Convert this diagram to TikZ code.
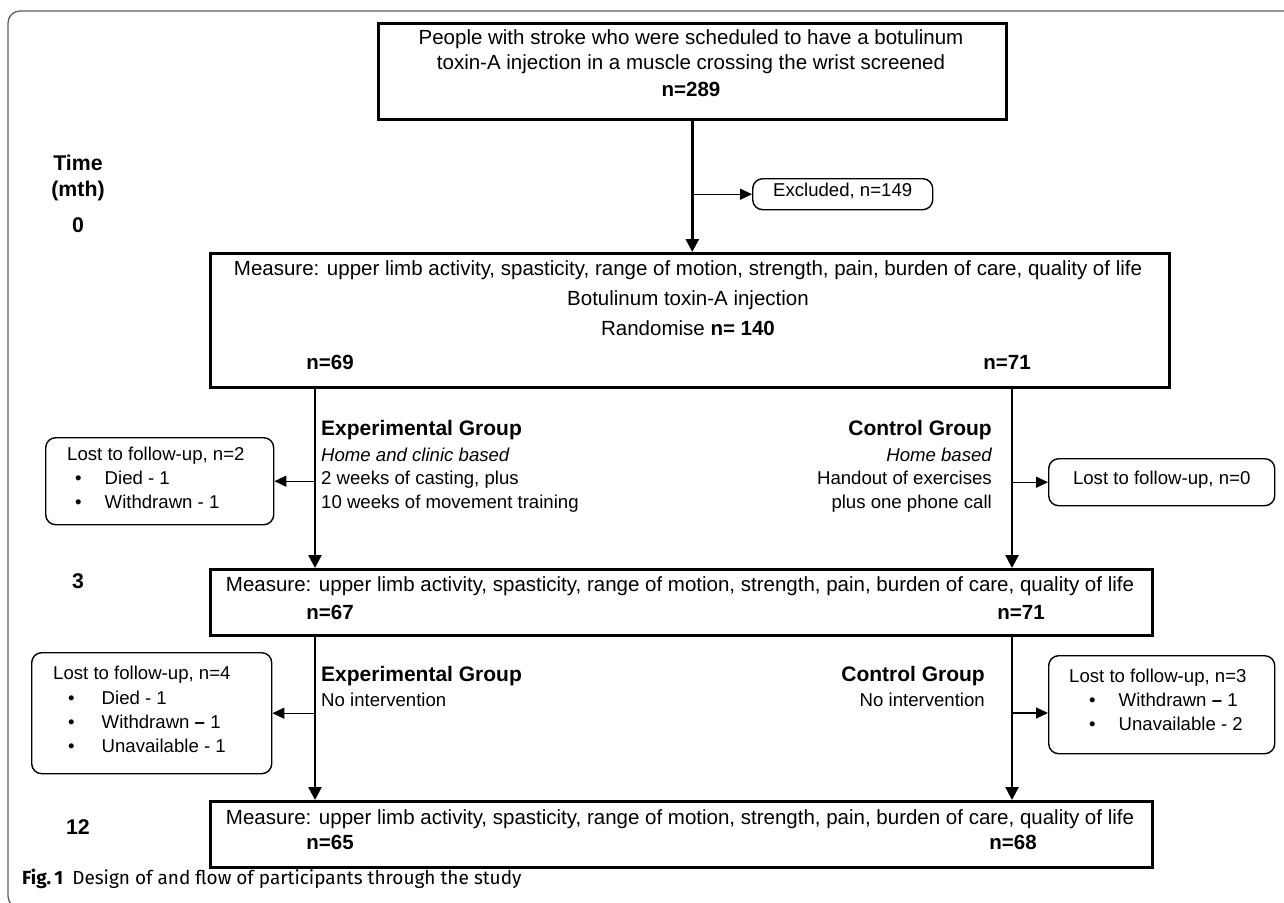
\documentclass[tikz,border=0pt]{standalone}
\usepackage{fontspec}
\setmainfont{Liberation Sans}
\newfontfamily\capfont{Fira Sans}
\usetikzlibrary{arrows.meta}
\begin{document}
\begin{tikzpicture}[x=1pt,y=-1pt,
  mainbox/.style={draw, line width=2.6pt, inner sep=0pt, anchor=north west},
  lostbox/.style={draw, line width=1.4pt, rounded corners=10pt, inner sep=0pt, anchor=north west},
  txt/.style={inner sep=0pt, font=\fontsize{20.5}{24}\selectfont},
  btxt/.style={inner sep=0pt, font=\fontsize{20.5}{24}\selectfont\bfseries},
  stxt/.style={inner sep=0pt, font=\fontsize{18.6}{22}\selectfont},
  itxt/.style={inner sep=0pt, font=\fontsize{18.6}{22}\selectfont\itshape},
  head/.style={inner sep=0pt, font=\fontsize{21}{24}\selectfont\bfseries},
  lbl/.style={inner sep=0pt, font=\fontsize{21.3}{24}\selectfont\bfseries},
  mainarrow/.style={line width=2.6pt, -{Triangle[length=13pt,width=13pt]}},
  sidearrow/.style={line width=1.2pt, -{Triangle[length=12pt,width=11pt]}}
]
\useasboundingbox (0,0) rectangle (1284,902);
\begin{scope}
\clip (0,0) rectangle (1284,902);
\draw[gray!75!black, line width=1.3pt, rounded corners=12pt] (8,11) rectangle (1310,908);
\end{scope}

% coordinates for vertical flows
\coordinate (L) at (315,0);
\coordinate (R) at (1012,0);

% top box
\node[mainbox, minimum width=628pt, minimum height=96pt] (top) at (377,22) {};
\node[txt, anchor=mid] (t1) at (691,42) {People with stroke who were scheduled to have a botulinum};
\node[txt, anchor=mid] (t2) at (691,67) {toxin-A injection in a muscle crossing the wrist screened};
\node[btxt, anchor=mid] (t3) at (691,94) {n=289};

% excluded
\node[lostbox, minimum width=180pt, minimum height=31pt] (ex) at (752,178) {};
\node[stxt, anchor=mid] (ext) at (ex.center) {Excluded, n=149};

% time labels
\node[lbl, anchor=mid] (time) at (78,168) {Time};
\node[lbl, anchor=mid] (mth) at (78,194) {(mth)};
\node[lbl, anchor=mid] (m0) at (78,230) {0};
\node[lbl, anchor=mid] (m3) at (78,586) {3};
\node[lbl, anchor=mid] (m12) at (78,832) {12};

% box 0
\node[mainbox, minimum width=959pt, minimum height=134pt] (b0) at (209,252) {};
\node[txt, anchor=mid] (b0a) at (688,273) {Measure: upper limb activity, spasticity, range of motion, strength, pain, burden of care, quality of life};
\node[txt, anchor=mid] (b0b) at (688,303) {Botulinum toxin-A injection};
\node[txt, anchor=mid] (b0c) at (688,333) {Randomise \textbf{n= 140}};
\node[btxt, anchor=mid] (b0l) at (330,367) {n=69};
\node[btxt, anchor=mid] (b0r) at (1007,367) {n=71};

% box 3
\node[mainbox, minimum width=942pt, minimum height=66pt] (b3) at (209,568) {};
\node[txt, anchor=mid] (b3a) at (680,589) {Measure: upper limb activity, spasticity, range of motion, strength, pain, burden of care, quality of life};
\node[btxt, anchor=mid] (b3l) at (330,617) {n=67};
\node[btxt, anchor=mid] (b3r) at (1021,617) {n=71};

% box 12
\node[mainbox, minimum width=942pt, minimum height=66pt] (b12) at (209,800) {};
\node[txt, anchor=mid] (b12a) at (680,822) {Measure: upper limb activity, spasticity, range of motion, strength, pain, burden of care, quality of life};
\node[btxt, anchor=mid] (b12l) at (330,847) {n=65};
\node[btxt, anchor=mid] (b12r) at (1013,847) {n=68};

% group texts 0-3
\node[head, anchor=mid west] (e1) at (321,433) {Experimental Group};
\node[itxt, anchor=mid west] (e2) at (321,459) {Home and clinic based};
\node[stxt, anchor=mid west] (e3) at (321,482) {2 weeks of casting, plus};
\node[stxt, anchor=mid west] (e4) at (321,506) {10 weeks of movement training};

\node[head, anchor=mid east] (c1) at (992,433) {Control Group};
\node[itxt, anchor=mid east] (c2) at (992,459) {Home based};
\node[stxt, anchor=mid east] (c3) at (992,482) {Handout of exercises};
\node[stxt, anchor=mid east] (c4) at (992,506) {plus one phone call};

% group texts 3-12
\node[head, anchor=mid west] (e5) at (321,679) {Experimental Group};
\node[stxt, anchor=mid west] (e6) at (321,704) {No intervention};
\node[head, anchor=mid east] (c5) at (985,679) {Control Group};
\node[stxt, anchor=mid east] (c6) at (985,704) {No intervention};

% lost boxes
\node[lostbox, minimum width=228pt, minimum height=87pt] (lost1) at (45,437) {};
\node[stxt, anchor=mid west] (l1a) at (67,458) {Lost to follow-up, n=2};
\node[stxt, anchor=mid west] (l1b) at (75,482) {•\hspace{23pt}Died - 1};
\node[stxt, anchor=mid west] (l1c) at (75,506) {•\hspace{23pt}Withdrawn - 1};

\node[lostbox, minimum width=226pt, minimum height=47pt] (lost0) at (1048,458) {};
\node[stxt, anchor=mid] (l0a) at (lost0.center) {Lost to follow-up, n=0};

\node[lostbox, minimum width=240pt, minimum height=121pt] (lost2) at (31,652) {};
\node[stxt, anchor=mid west] (l2a) at (53,677) {Lost to follow-up, n=4};
\node[stxt, anchor=mid west] (l2b) at (68,702) {•\hspace{27pt}Died - 1};
\node[stxt, anchor=mid west] (l2c) at (68,726) {•\hspace{27pt}Withdrawn \textbf{–} 1};
\node[stxt, anchor=mid west] (l2d) at (68,750) {•\hspace{27pt}Unavailable - 1};

\node[lostbox, minimum width=226pt, minimum height=98pt] (lost3) at (1048,655) {};
\node[stxt, anchor=mid west] (l3a) at (1069,680) {Lost to follow-up, n=3};
\node[stxt, anchor=mid west] (l3b) at (1089,704) {•\hspace{23pt}Withdrawn \textbf{–} 1};
\node[stxt, anchor=mid west] (l3c) at (1089,728) {•\hspace{23pt}Unavailable - 2};

% connectors
\draw[mainarrow] (top.south) -- (top.south |- b0.north);
\draw[sidearrow] (top.south |- ex.west) -- (ex.west);
\draw[mainarrow] (b0.south -| L) -- (b3.north -| L);
\draw[mainarrow] (b0.south -| R) -- (b3.north -| R);
\draw[mainarrow] (b3.south -| L) -- (b12.north -| L);
\draw[mainarrow] (b3.south -| R) -- (b12.north -| R);
\draw[sidearrow] (lost1.east -| L) -- (lost1.east);
\draw[sidearrow] (lost0.west -| R) -- (lost0.west);
\draw[sidearrow] (lost2.east -| L) -- (lost2.east);
\coordinate (a3) at (1012,713);
\draw[sidearrow] (a3) -- (a3 -| lost3.west);

% caption
\node[inner sep=0pt, anchor=mid west, font=\capfont\fontsize{19}{22}\selectfont] (cap) at (22,882) {\textbf{Fig.\,1}\hspace{9pt}Design of and flow of participants through the study};
\end{tikzpicture}
\end{document}
